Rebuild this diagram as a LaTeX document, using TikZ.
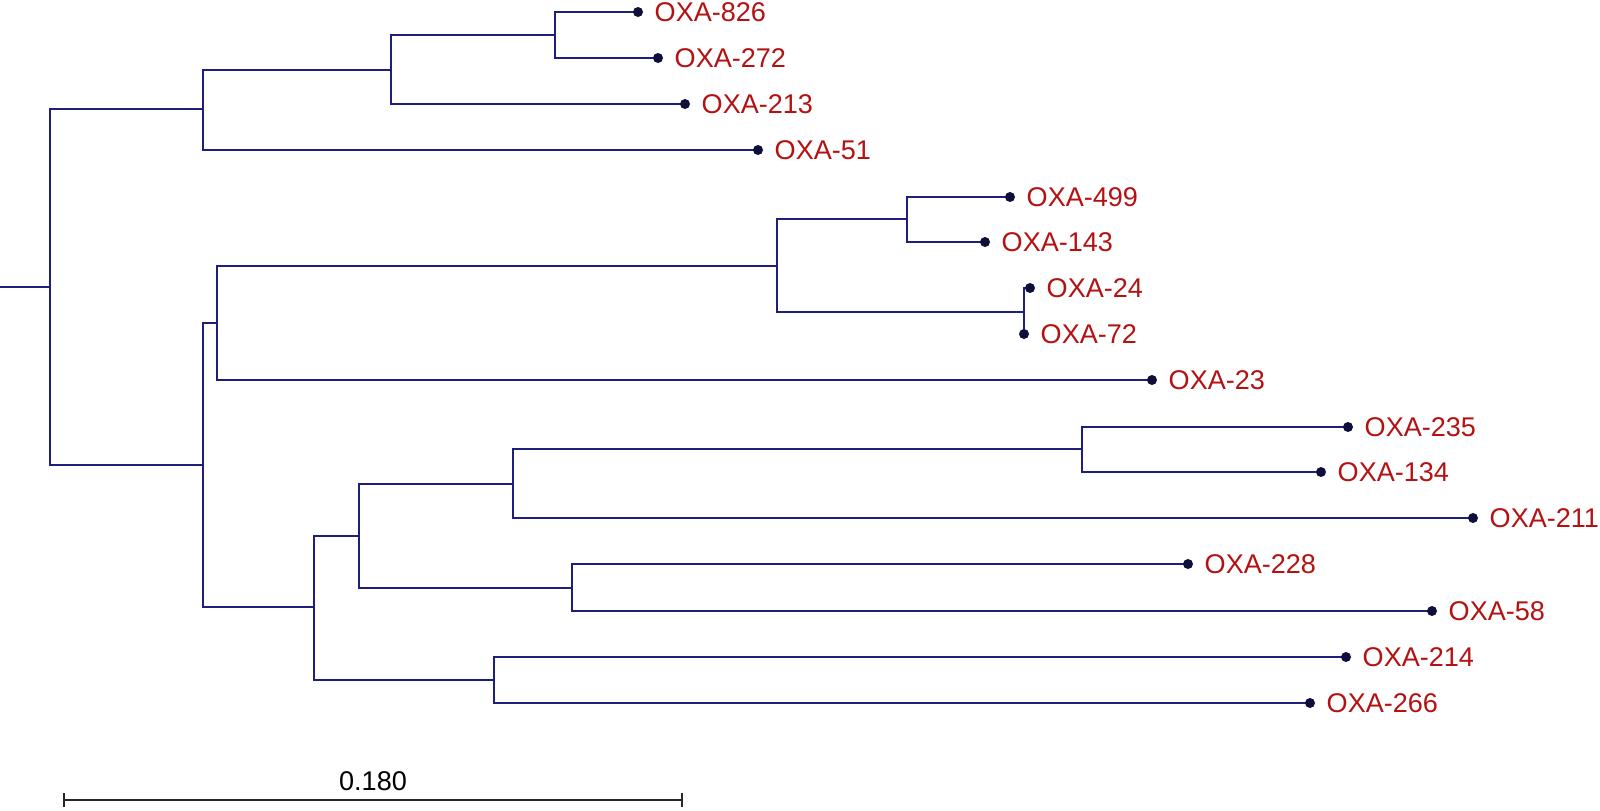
\documentclass[tikz,border=0pt]{standalone}
\usepackage{fontspec}
\setmainfont{Liberation Sans}
\definecolor{treeblue}{RGB}{30,30,125}
\definecolor{dotblue}{RGB}{15,15,60}
\definecolor{labred}{RGB}{180,18,18}

\begin{document}
\begin{tikzpicture}
	[x=0.1mm,y=-0.1mm,
	 branch/.style={treeblue, line width=0.7pt},
	 leaf/.style={anchor=west, inner sep=0pt, xshift=1.6mm, text=labred, font=\fontsize{7.7}{9}\selectfont}]
	\useasboundingbox (0,0) rectangle (1600,810);
	
	% inner nodes
	\coordinate (r0) at (0,287);
	\coordinate (root) at (50,287);
	\coordinate (nA) at (203,109);
	\coordinate (nB) at (391,70);
	\coordinate (nC) at (555,35);
	\coordinate (nD) at (203,465);
	\coordinate (nE) at (217,323);
	\coordinate (nG) at (777,266);
	\coordinate (nH) at (907,219);
	\coordinate (nI) at (1024,312);
	\coordinate (nF) at (314,607);
	\coordinate (nJ) at (359,536);
	\coordinate (nK) at (513,484);
	\coordinate (nN) at (1082,449);
	\coordinate (nL) at (572,588);
	\coordinate (nM) at (494,680);
	
	% tips
	\foreach \n/\x/\y in {826/638/12, 272/658/58, 213/685/104, 51/758/150,
		499/1010/197, 143/985/242, 24/1030/288, 72/1024/334, 23/1152/380,
		235/1348/427, 134/1321/472, 211/1473/518, 228/1188/564, 58/1432/611,
		214/1346/657, 266/1310/703}
		\coordinate (l\n) at (\x,\y);
	
	\draw[branch] (r0) -- (root);
	\foreach \from/\to in {root/nA,root/nD,nA/nB,nA/l51,nB/nC,nB/l213,nC/l826,nC/l272,
		nD/nE,nD/nF,nE/nG,nE/l23,nG/nH,nG/nI,nH/l499,nH/l143,nI/l24,nI/l72,
		nF/nJ,nF/nM,nJ/nK,nJ/nL,nK/nN,nK/l211,nN/l235,nN/l134,nL/l228,nL/l58,nM/l214,nM/l266}
		\draw[branch] (\from) |- (\to);
	
	\foreach \n in {826,272,213,51,499,143,24,72,23,235,134,211,228,58,214,266}
	{
		\fill[dotblue] (l\n) circle (0.5mm);
		\node[leaf] (t\n) at (l\n) {OXA-\n};
	}
	
	% scale bar
	\coordinate (s0) at (64,800);
	\coordinate (s1) at (682,800);
	\draw[black!85, line width=0.7pt] (s0) -- (s1);
	\draw[black!85, line width=0.7pt] (s0) ++(0,-7) -- ++(0,14);
	\draw[black!85, line width=0.7pt] (s1) ++(0,-7) -- ++(0,14);
	\node[font=\fontsize{7.7}{9}\selectfont, inner sep=0pt] (sl) at (373,781) {0.180};
\end{tikzpicture}
\end{document}
